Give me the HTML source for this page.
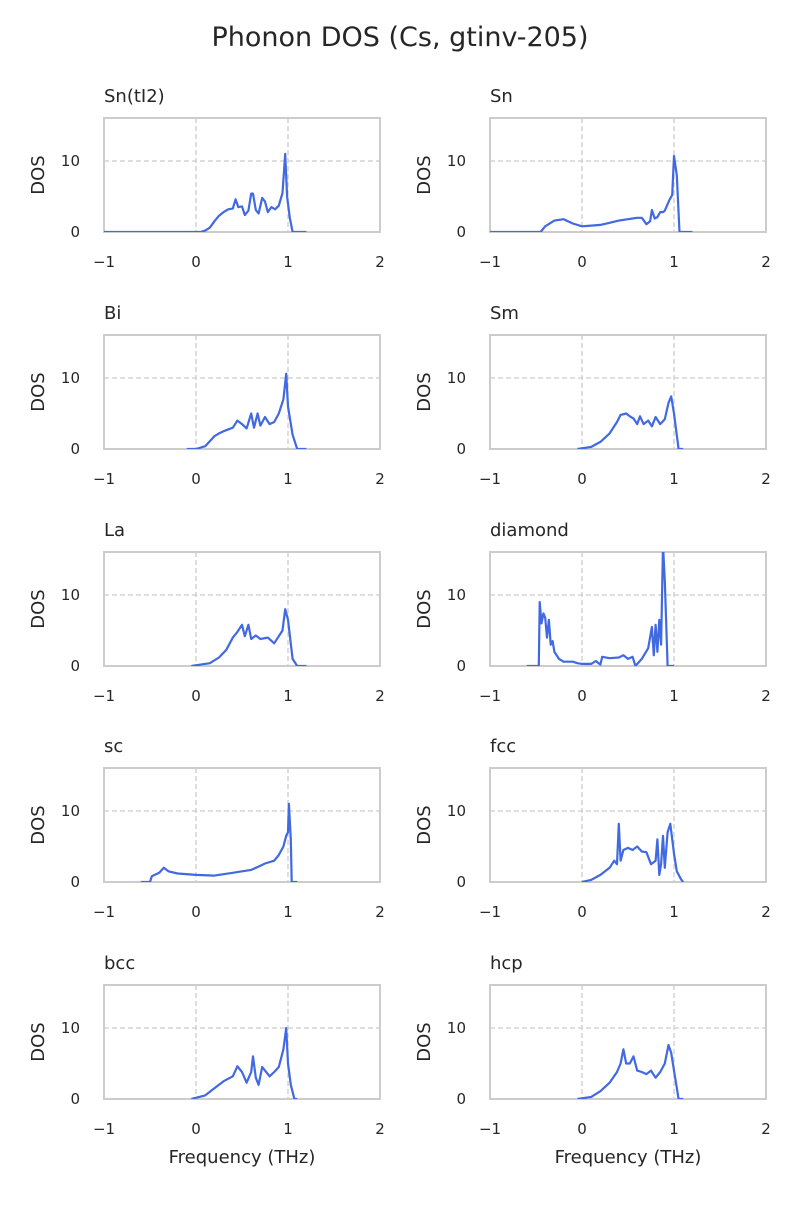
<!DOCTYPE html>
<html><head><meta charset="utf-8"><style>
body{margin:0;background:#fff;}
svg text{font-family:"DejaVu Sans","Liberation Sans",sans-serif;fill:#262626;}
</style></head><body>
<svg id="fig" width="800" height="1200" viewBox="0 0 800 1200">
<text x="400" y="46" text-anchor="middle" font-size="27">Phonon DOS (Cs, gtinv-205)</text>
</svg>
<script>
const titles=["Sn(tI2)","Sn","Bi","Sm","La","diamond","sc","fcc","bcc","hcp"];
const xTicks=[-1,0,1,2];
const xTickLabels=["\u22121","0","1","2"];
const yTicks=[0,10];
const s_SnTI2=[[-1,0],[0.05,0],[0.1,0.2],[0.15,0.6],[0.2,1.5],[0.25,2.3],[0.3,2.8],[0.35,3.2],[0.4,3.3],[0.43,4.6],[0.46,3.5],[0.5,3.6],[0.53,2.4],[0.57,3],[0.6,5.4],[0.62,5.4],[0.65,3.1],[0.68,2.6],[0.72,4.8],[0.75,4.3],[0.78,2.8],[0.82,3.5],[0.86,3.2],[0.9,3.7],[0.94,5.5],[0.97,11],[0.99,5],[1.02,2],[1.05,0],[1.2,0]];
const s_Sn=[[-1,0],[-0.45,0],[-0.4,0.8],[-0.3,1.6],[-0.2,1.8],[-0.1,1.2],[0,0.8],[0.1,0.9],[0.2,1.0],[0.3,1.3],[0.4,1.6],[0.5,1.8],[0.6,2.0],[0.65,2.0],[0.7,1.1],[0.74,1.5],[0.76,3.1],[0.79,1.9],[0.82,2.1],[0.85,2.8],[0.88,2.8],[0.9,3.0],[0.95,4.5],[0.98,5.2],[1.0,10.7],[1.03,8],[1.06,0],[1.2,0]];
const s_Bi=[[-0.1,0],[0,0],[0.1,0.4],[0.2,1.8],[0.25,2.2],[0.3,2.5],[0.4,3],[0.45,4],[0.5,3.5],[0.55,2.9],[0.6,5],[0.63,3],[0.67,5],[0.7,3.3],[0.75,4.5],[0.8,3.5],[0.85,3.8],[0.9,5],[0.95,7],[0.98,10.6],[1.0,6],[1.05,2],[1.1,0],[1.2,0]];
const s_Sm=[[-0.05,0],[0.1,0.3],[0.2,1],[0.3,2.2],[0.38,3.8],[0.42,4.8],[0.48,5],[0.52,4.6],[0.56,4.3],[0.6,3.5],[0.63,4.6],[0.67,3.5],[0.72,4],[0.76,3.2],[0.8,4.5],[0.85,3.5],[0.9,4.2],[0.94,6.5],[0.97,7.4],[1.0,5],[1.05,0],[1.1,0]];
const s_La=[[-0.05,0],[0.15,0.4],[0.25,1.2],[0.33,2.3],[0.4,4],[0.45,4.8],[0.5,5.8],[0.53,4.2],[0.57,5.8],[0.6,3.8],[0.65,4.3],[0.7,3.8],[0.78,4],[0.85,3.2],[0.9,4.2],[0.94,5],[0.97,8],[1.0,6.5],[1.05,1],[1.1,0],[1.2,0]];
const s_diamond=[[-0.6,0],[-0.47,0],[-0.46,9],[-0.44,6],[-0.42,7.4],[-0.4,6.8],[-0.38,4],[-0.36,6.5],[-0.34,3],[-0.32,3.5],[-0.3,2],[-0.25,1],[-0.2,0.6],[-0.1,0.6],[-0.05,0.4],[0,0.3],[0.1,0.3],[0.15,0.7],[0.2,0.2],[0.22,1.3],[0.3,1.1],[0.4,1.2],[0.45,1.5],[0.5,1.0],[0.55,1.3],[0.58,0],[0.65,1],[0.72,2.5],[0.76,5.5],[0.78,1.5],[0.8,5.8],[0.82,2],[0.84,6.5],[0.86,3],[0.88,17],[0.9,12],[0.93,0],[1.0,0]];
const s_sc=[[-0.6,0],[-0.5,0],[-0.48,0.8],[-0.4,1.3],[-0.35,2],[-0.3,1.5],[-0.2,1.2],[0,1.0],[0.2,0.9],[0.3,1.1],[0.4,1.3],[0.5,1.5],[0.6,1.7],[0.7,2.3],[0.75,2.6],[0.85,3],[0.9,3.8],[0.95,5],[0.98,6.5],[1.0,7],[1.01,11],[1.03,6],[1.04,0],[1.1,0]];
const s_fcc=[[0,0],[0.1,0.3],[0.2,1],[0.3,2],[0.35,3],[0.38,2.5],[0.4,8.2],[0.42,3],[0.45,4.5],[0.5,4.8],[0.55,4.5],[0.6,5],[0.65,4.3],[0.7,4.2],[0.75,2.5],[0.8,3],[0.82,6],[0.84,1],[0.86,2.5],[0.88,6.5],[0.9,2],[0.93,7],[0.96,8.2],[1.0,4],[1.03,1.5],[1.08,0.3],[1.1,0]];
const s_bcc=[[-0.05,0],[0.1,0.5],[0.2,1.5],[0.3,2.5],[0.4,3.2],[0.45,4.6],[0.5,3.8],[0.55,2.3],[0.6,3.8],[0.62,6],[0.65,3],[0.68,2],[0.72,4.5],[0.75,4],[0.8,3.2],[0.85,3.8],[0.9,4.5],[0.95,7],[0.98,10],[1.0,5],[1.03,2],[1.07,0],[1.1,0]];
const s_hcp=[[-0.05,0],[0.1,0.3],[0.2,1.1],[0.3,2.3],[0.38,3.8],[0.42,5],[0.45,7],[0.48,5],[0.52,5],[0.56,6],[0.6,4],[0.65,3.8],[0.7,3.5],[0.75,4],[0.8,3],[0.85,3.8],[0.9,5],[0.94,7.6],[0.97,6.5],[1.0,4],[1.05,0],[1.1,0]];
const series=[s_SnTI2,s_Sn,s_Bi,s_Sm,s_La,s_diamond,s_sc,s_fcc,s_bcc,s_hcp];

const NS="http://www.w3.org/2000/svg";
const fig=document.getElementById('fig');
const W=276,H=114,X0=-1,X1=2,Y0=0,Y1=16.05;
const lefts=[104,490],tops=[118,335,552,768,985];
function mk(tag,attrs,parent){const e=document.createElementNS(NS,tag);for(const k in attrs)e.setAttribute(k,attrs[k]);(parent||fig).appendChild(e);return e;}
series.forEach((data,i)=>{
  const px=lefts[i%2],py=tops[Math.floor(i/2)];
  const sx=v=>px+(v-X0)/(X1-X0)*W;
  const sy=v=>py+H-(v-Y0)/(Y1-Y0)*H;
  const g=mk('g',{});
  
  
  const cp=mk('clipPath',{id:'c'+i},g);mk('rect',{x:px,y:py,width:W,height:H},cp);
  const t=mk('text',{x:px,y:py-16,'font-size':18},g);t.textContent=titles[i];
  
  
  [0,1].forEach(v=>{const l=mk('line',{x1:sx(v),x2:sx(v),y1:py,y2:py+H,stroke:'#cccccc','stroke-width':1.3,'stroke-dasharray':'5,3'},g);
    
    });
  [10].forEach(v=>{const l=mk('line',{x1:px,x2:px+W,y1:sy(v),y2:sy(v),stroke:'#cccccc','stroke-width':1.3,'stroke-dasharray':'5,3'},g);
    
    });
  const fr=mk('rect',{x:px,y:py,width:W,height:H,fill:'none',stroke:'#cccccc','stroke-width':2},g);
  
  
  const d=data.map((p,j)=>(j?'L':'M')+sx(p[0]).toFixed(1)+','+sy(p[1]).toFixed(1)).join('');
  const path=mk('path',{d:d,fill:'none',stroke:'#4169e1','stroke-width':2.2,'stroke-linejoin':'round','clip-path':'url(#c'+i+')'},g);
  
  
  xTicks.forEach((v,j)=>{const tx=mk('text',{x:sx(v),y:py+H+35,'font-size':15,'text-anchor':'middle'},g);tx.textContent=xTickLabels[j];
    
    });
  yTicks.forEach(v=>{const ty=mk('text',{x:px-24,y:sy(v)+5,'font-size':15,'text-anchor':'end'},g);ty.textContent=String(v);
    
    });
  const yl=mk('text',{x:0,y:0,'font-size':18,'text-anchor':'middle',transform:'translate('+(px-60)+','+(py+H/2)+') rotate(-90)'},g);yl.textContent='DOS';
  
  
  if(Math.floor(i/2)===4){const xl=mk('text',{x:px+W/2,y:py+H+64,'font-size':18,'text-anchor':'middle'},g);xl.textContent='Frequency (THz)';
    
    }
});
</script>
</body></html>
